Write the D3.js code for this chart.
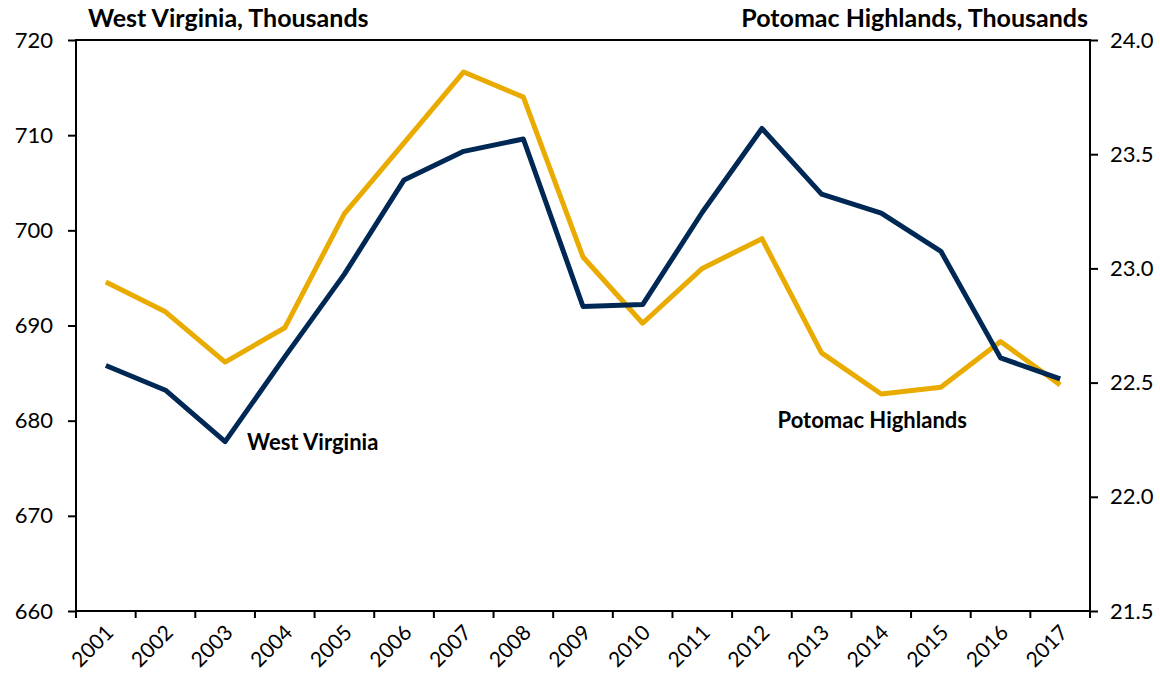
<!DOCTYPE html>
<html>
<head>
<meta charset="utf-8">
<script src="https://cdn.jsdelivr.net/npm/d3@7"></script>
<style>
  body { margin: 0; background: #fff; }
  svg text { font-family: Lato, "Open Sans", sans-serif; }
</style>
</head>
<body>
<div class="viz"></div>
<script>
// valeurs
var years = ['2001','2002','2003','2004','2005','2006','2007','2008','2009',
             '2010','2011','2012','2013','2014','2015','2016','2017'];
var west_virginia = [685.8, 683.2, 677.8, 686.7, 695.4, 705.3, 708.3, 709.6, 692.0,
                     692.2, 701.9, 710.7, 703.8, 701.8, 697.8, 686.6, 684.4];
var potomac = [22.94, 22.81, 22.59, 22.74, 23.24, 23.55, 23.86, 23.75, 23.05,
               22.76, 23.00, 23.13, 22.63, 22.45, 22.48, 22.68, 22.49];
var left_ticks = [660, 670, 680, 690, 700, 710, 720];
var right_ticks = [21.5, 22.0, 22.5, 23.0, 23.5, 24.0];

var width = 1160, height = 686;
margin = { top: 40, right: 70, bottom: 75, left: 76 };

var graph = d3.select('.viz')
    .append('svg')
    .attr('width', width)
    .attr('height', height);

var scale_x = d3.scaleBand()
    .domain(years)
    .range([margin.left, width - margin.right]);

var scale_left = d3.scaleLinear()
    .domain([660, 720])
    .range([height - margin.bottom, margin.top]);

var scale_right = d3.scaleLinear()
    .domain([21.5, 24.0])
    .range([height - margin.bottom, margin.top]);

// box
graph.append('rect')
    .attr('x', margin.left)
    .attr('y', margin.top)
    .attr('width', width - margin.right - margin.left)
    .attr('height', height - margin.bottom - margin.top)
    .attr('fill', 'none')
    .attr('stroke', '#000')
    .attr('stroke-width', 2);

// x axis : ticks between the years
var x_axis = graph.append('g')
    .attr('transform', `translate(0, ${height - margin.bottom})`);
var bounds = years.map(y => scale_x(y)).concat([width - margin.right]);
x_axis.selectAll('line')
    .data(bounds)
    .enter()
    .append('line')
    .attr('x1', d => d).attr('x2', d => d)
    .attr('y1', 0).attr('y2', 7)
    .attr('stroke', '#000')
    .attr('stroke-width', 2);
x_axis.selectAll('text')
    .data(years)
    .enter()
    .append('text')
    .attr('transform', d => `translate(${scale_x(d) + scale_x.bandwidth() / 2 + 9}, 23) rotate(-45)`)
    .attr('text-anchor', 'end')
    .attr('font-size', '21px')
    .attr('fill', '#000')
    .text(d => d);

// left axis
var left_axis = graph.append('g')
    .attr('transform', `translate(${margin.left}, 0)`)
    .call(d3.axisLeft(scale_left).tickValues(left_ticks).tickSize(8).tickPadding(15));
left_axis.select('.domain').remove();
left_axis.selectAll('line').attr('stroke-width', 2);
left_axis.selectAll('text').attr('font-size', '22px').attr('fill', '#000')
    .style('font-family', 'Lato, "Open Sans", sans-serif');

// right axis
var right_axis = graph.append('g')
    .attr('transform', `translate(${width - margin.right}, 0)`)
    .call(d3.axisRight(scale_right).tickValues(right_ticks).tickFormat(d3.format('.1f')).tickSize(8).tickPadding(12));
right_axis.select('.domain').remove();
right_axis.selectAll('line').attr('stroke-width', 2);
right_axis.selectAll('text').attr('font-size', '22px').attr('fill', '#000')
    .style('font-family', 'Lato, "Open Sans", sans-serif');

// lines
var cx = d => scale_x(d) + scale_x.bandwidth() / 2;

var line_left = d3.line()
    .x((d, i) => cx(years[i]))
    .y(d => scale_left(d));
var line_right = d3.line()
    .x((d, i) => cx(years[i]))
    .y(d => scale_right(d));

graph.append('path')
    .datum(potomac)
    .attr('d', line_right)
    .attr('fill', 'none')
    .attr('stroke', '#EAAB00')
    .attr('stroke-width', 5)
    .attr('stroke-linejoin', 'round');

graph.append('path')
    .datum(west_virginia)
    .attr('d', line_left)
    .attr('fill', 'none')
    .attr('stroke', '#002855')
    .attr('stroke-width', 5)
    .attr('stroke-linejoin', 'round');

// titles
graph.append('text')
    .attr('x', margin.left + 12)
    .attr('y', 27)
    .attr('font-size', '25px')
    .attr('font-weight', 'bold')
    .text('West Virginia, Thousands');

graph.append('text')
    .attr('x', width - margin.right - 2)
    .attr('y', 27)
    .attr('text-anchor', 'end')
    .attr('font-size', '25px')
    .attr('font-weight', 'bold')
    .text('Potomac Highlands, Thousands');

// labels
graph.append('text')
    .attr('x', cx('2003') + 22)
    .attr('y', scale_left(677.8) + 8)
    .attr('font-size', '22px')
    .attr('font-weight', 'bold')
    .text('West Virginia');

graph.append('text')
    .attr('x', cx('2013') - 44)
    .attr('y', scale_right(22.45) + 34)
    .attr('font-size', '22px')
    .attr('font-weight', 'bold')
    .text('Potomac Highlands');
</script>
</body>
</html>
